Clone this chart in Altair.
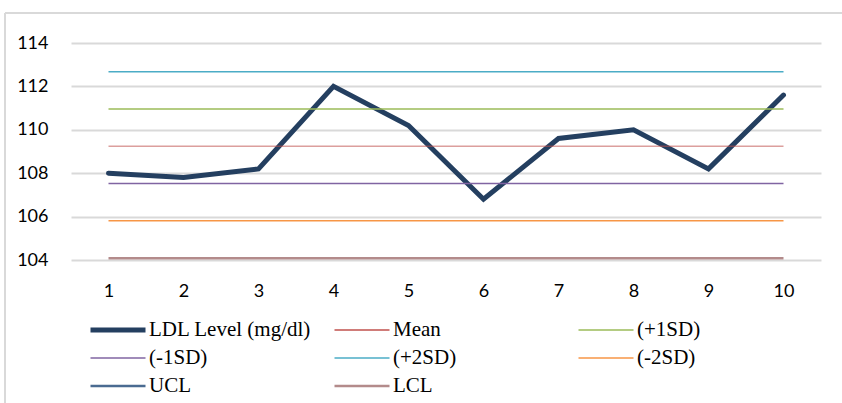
import altair as alt
import pandas as pd

samples = list(range(1, 11))
ldl = [108.0, 107.8, 108.2, 112.0, 110.2, 106.8, 109.6, 110.0, 108.2, 111.6]

series_names = ["LDL Level (mg/dl)", "Mean", "(+1SD)", "(-1SD)", "(+2SD)", "(-2SD)", "UCL", "LCL"]
const_names = ["Mean", "(+1SD)", "(-1SD)", "(+2SD)", "(-2SD)", "UCL", "LCL"]
const_values = [109.24, 110.96, 107.52, 112.68, 105.81, 114.4, 104.08]
colors = ["#243F60", "#C0504D", "#9BBB59", "#8064A2", "#4BACC6", "#F79646", "#4A6B91", "#B38B8B"]
widths = [5, 1.5, 1.5, 1.5, 1.5, 1.5, 2.5, 2.5]
y_ticks = [104, 106, 108, 110, 112, 114]

rows = []
for s, v in zip(samples, ldl):
    rows.append({"sample": s, "value": v, "series": "LDL Level (mg/dl)"})
for name, val in zip(const_names, const_values):
    for s in samples:
        rows.append({"sample": s, "value": val, "series": name})
df = pd.DataFrame(rows)

legend = alt.Legend(
    title=None, orient="none", legendX=17, legendY=277, columns=3, direction="horizontal",
    gridAlign="all", columnPadding=20, rowPadding=7, clipHeight=20,
    symbolType="stroke", symbolSize=3025, symbolOpacity=1, labelFont="Liberation Serif",
    labelFontSize=21, labelColor="#000000", labelOffset=1, labelLimit=300,
)

color = alt.Color("series:N", scale=alt.Scale(domain=series_names, range=colors), legend=legend)
sw = alt.StrokeWidth("series:N", scale=alt.Scale(type="ordinal", domain=series_names, range=widths),
                     legend=legend)

x = alt.X("sample:O", scale=alt.Scale(padding=0.5),
          axis=alt.Axis(title=None, labelAngle=0, domain=False, ticks=False, labelPadding=22,
                        labelFont="Lato", labelFontSize=18, labelColor="#000000"))
y = alt.Y("value:Q", scale=alt.Scale(domain=[104, 114], nice=False, zero=False),
          axis=alt.Axis(title=None, values=y_ticks, domain=False, ticks=False, labelPadding=23,
                        grid=True, gridColor="#D9D9D9", gridWidth=2,
                        labelFont="Lato", labelFontSize=18, labelColor="#000000"))

base = alt.Chart(df)
ldl_layer = base.transform_filter(alt.datum.series == "LDL Level (mg/dl)").mark_line(
    strokeCap="round", strokeJoin="miter").encode(x=x, y=y, color=color, strokeWidth=sw)
const_layer = base.transform_filter(alt.datum.series != "LDL Level (mg/dl)").mark_line(clip=True).encode(
    x=x, y=y, color=color, strokeWidth=sw, detail="series:N",
    opacity=alt.condition(alt.datum.series == "Mean", alt.value(0.55), alt.value(1)))

frame_left = alt.Chart(pd.DataFrame({"a": [0]})).mark_rule(color="#D9D9D9", strokeWidth=2).encode(
    x=alt.value(-66), y=alt.value(-30), y2=alt.value(400))
frame_top = alt.Chart(pd.DataFrame({"a": [0]})).mark_rule(color="#D9D9D9", strokeWidth=2).encode(
    x=alt.value(-66), x2=alt.value(800), y=alt.value(-30))

chart = alt.layer(frame_left, frame_top, ldl_layer, const_layer).resolve_scale(
    color="shared", strokeWidth="shared").properties(
    width=750, height=217,
    autosize=alt.AutoSizeParams(type="none"),
    padding={"left": 71, "top": 43, "right": 21, "bottom": 143},
    background="#FFFFFF",
).configure_view(stroke=None)

chart.save("out.html", embed_options={"renderer": "svg", "actions": False})
